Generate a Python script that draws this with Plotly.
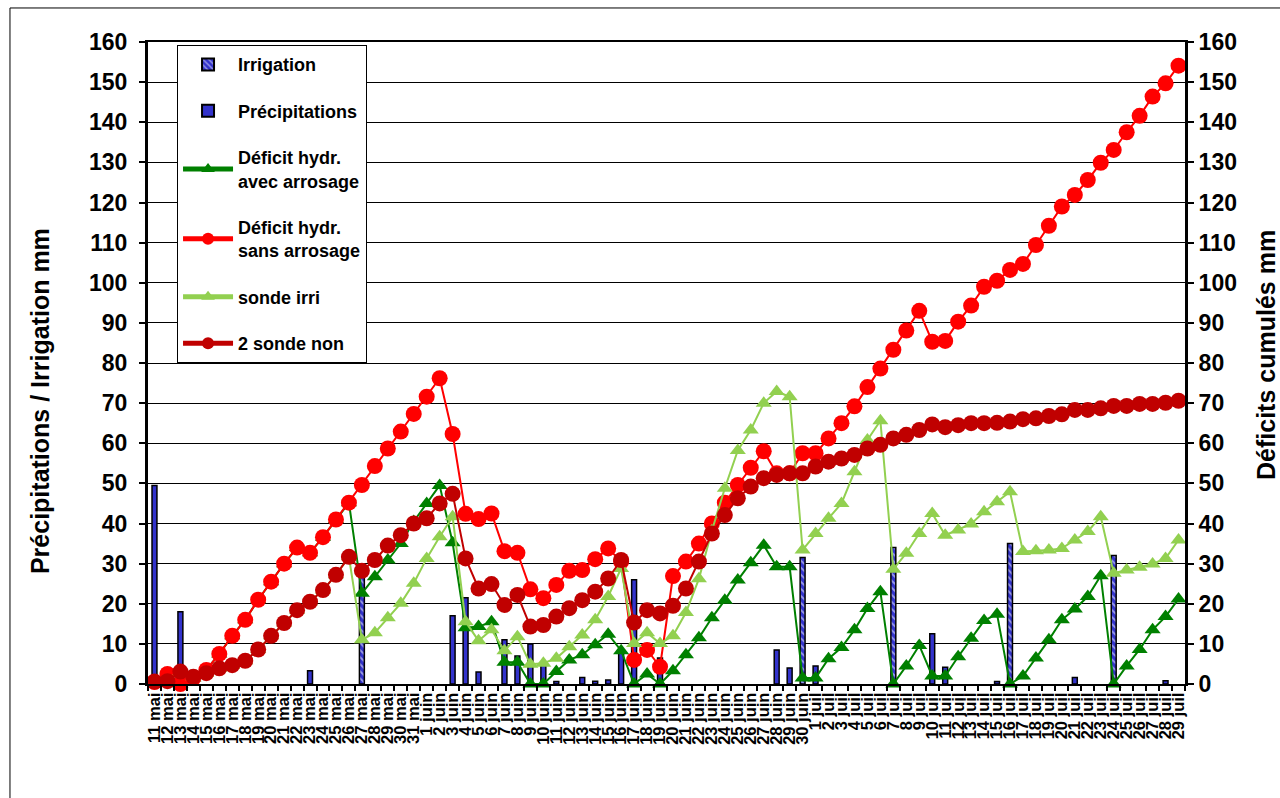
import plotly.graph_objects as go

# ---------------- categories ----------------
days_mai = [f"{d} mai" for d in range(11, 32)]
days_juin = [f"{d} juin" for d in range(1, 31)]
days_juil = [f"{d} juil" for d in range(1, 30)]
categories = days_mai + days_juin + days_juil

# ---------------- bars (mm) ----------------
precip_dates = ["11 mai", "13 mai", "23 mai", "3 juin", "4 juin", "5 juin", "7 juin", "8 juin",
                "9 juin", "10 juin", "11 juin", "13 juin", "14 juin", "15 juin", "16 juin",
                "17 juin", "19 juin", "28 juin", "29 juin", "1 juil", "10 juil", "11 juil",
                "15 juil", "21 juil", "28 juil"]
precip_values = [49.5, 18, 3.3, 17, 21.5, 3, 11, 7,
                 10, 5, 0.6, 1.6, 0.7, 1, 8,
                 26, 6.5, 8.5, 4, 4.5, 12.5, 4.2,
                 0.6, 1.6, 0.8]

irrig_dates = ["27 mai", "30 juin", "7 juil", "16 juil", "24 juil"]
irrig_values = [28, 31.5, 34, 35, 32]

# ---------------- lines (cumulated deficits, mm) ----------------
deficit_avec = [
    # mai 11..31
    0.5, 2.5, 0, 1.5, 3.5, 7.5, 12, 16, 21, 25.5, 30, 34, 32.7, 36.6, 41, 45.2,
    22.6, 26.7, 30.9, 35, 40.5,
    # juin 1..30
    45, 49.5, 35.2, 14, 14.3, 15.5, 5.4, 5.4, 0, 0, 3.1, 6, 7.3, 9.8, 12.4, 8.3,
    0, 2.5, 0, 3.3, 7.3, 11.5, 16.5, 20.9, 25.9, 30.2, 34.6, 29.2, 29.2, 1.5,
    # juil 1..29
    1.5, 6.3, 9.1, 13.5, 18.8, 23, 0, 4.5, 9.6, 2, 2, 6.8, 11.4, 15.8, 17.4,
    0, 2, 6.5, 11, 16, 18.7, 21.8, 27, 0, 4.5, 8.6, 13.5, 16.8, 21.2,
]
deficit_sans = [
    0.5, 2.5, 0, 1.5, 3.5, 7.5, 12, 16, 21, 25.5, 30, 34, 32.7, 36.6, 41, 45.2,
    49.6, 54.3, 58.7, 62.9, 67.3,
    71.6, 76.2, 62.3, 42.4, 41.1, 42.5, 33.1, 32.7, 23.6, 21.4, 24.7, 28.2, 28.4, 31.1, 33.8, 30.5,
    6, 8.5, 4.3, 26.9, 30.5, 35, 40, 45.2, 49.6, 53.9, 58, 52.5, 52.5, 57.5,
    57.5, 61.2, 65, 69.2, 74, 78.6, 83.3, 88.1, 93, 85.3, 85.5, 90.3, 94.3, 99, 100.5,
    103.2, 104.7, 109.4, 114.2, 119, 121.9, 125.6, 129.9, 133.1, 137.5, 141.6, 146.4, 149.7, 154.1,
]
sonde_irri = [
    0.6, 0.7, 3.1, 1.8, 2.7, 3.9, 4.7, 5.8, 8.6, 12, 15.2, 18.4, 20.5, 23.4, 27.2, 31.7,
    11, 12.8, 16.5, 20.1, 25.1,
    31.3, 36.7, 41.7, 15.5, 10.8, 13.5, 8.3, 11.8, 4.9, 5.2, 6.4, 9.3, 12.2, 16, 21.8, 28.8,
    10.1, 12.8, 10.1, 12, 17.8, 26.2, 38.2, 48.8, 58.2, 63.3, 70, 72.9, 71.6, 33.4,
    37.5, 41.3, 45, 52.9, 60.8, 65.6, 28.6, 32.6, 37.5, 42.5, 37.1, 38.4, 39.9, 42.9, 45.4,
    47.9, 33, 33.2, 33.4, 33.8, 35.9, 38, 41.7, 27.6, 28.4, 29.1, 29.9, 31.3, 35.9,
]
sonde_non = [
    0.6, 0.7, 3.1, 1.8, 2.7, 3.9, 4.7, 5.8, 8.6, 12, 15.2, 18.4, 20.5, 23.4, 27.2, 31.7,
    28.2, 30.9, 34.5, 37.1, 40,
    41.3, 45, 47.4, 31.3, 23.8, 24.9, 19.7, 22.2, 14.3, 14.7, 16.8, 18.9, 20.9, 23, 26.3, 30.9,
    15.3, 18.4, 17.6, 19.5, 23.8, 30.5, 37.5, 42.1, 46.3, 49.2, 51.3, 52.1, 52.5, 52.5,
    54.2, 55.4, 56.2, 57.1, 58.7, 59.6, 61.2, 62.1, 63.3, 64.7, 64, 64.5, 65, 65, 65.1,
    65.4, 66, 66.2, 66.8, 67.2, 68.3, 68.3, 68.7, 69.3, 69.3, 69.8, 69.8, 70.1, 70.6,
]

y_ticks = list(range(0, 161, 10))

FONT = "Liberation Sans"
BLUE = "#3333CC"

fig = go.Figure()

fig.add_trace(go.Bar(
    x=irrig_dates, y=irrig_values, name="Irrigation", width=0.38,
    marker=dict(color=BLUE, line=dict(color="black", width=1.5),
                pattern=dict(shape="\\", fgcolor="white", bgcolor=BLUE, size=5, solidity=0.35)),
    legendgroup="g1",
))
fig.add_trace(go.Bar(
    x=precip_dates, y=precip_values, name="Précipitations", width=0.38,
    marker=dict(color=BLUE, line=dict(color="black", width=1.5)),
    legendgroup="g2",
))

line_specs = [
    ("Déficit hydr.<br>avec arrosage", deficit_avec, "#008000", "triangle-up", 14, "g3"),
    ("Déficit hydr.<br>sans arrosage", deficit_sans, "#FF0000", "circle", 16, "g4"),
    ("sonde irri", sonde_irri, "#92D050", "triangle-up", 14, "g5"),
    ("2 sonde non", sonde_non, "#C00000", "circle", 16, "g6"),
]
for name, vals, col, sym, sz, grp in line_specs:
    fig.add_trace(go.Scatter(
        x=categories, y=vals, name=name, yaxis="y2", mode="lines+markers",
        line=dict(color=col, width=2),
        marker=dict(color=col, symbol=sym, size=sz),
        cliponaxis=False, legendgroup=grp,
    ))

title_font = dict(family=FONT, size=25, weight="bold", color="black")

fig.update_layout(
    width=1280, height=798,
    margin=dict(l=148, r=95, t=42, b=114, autoexpand=False),
    paper_bgcolor="white", plot_bgcolor="white",
    barmode="overlay",
    font=dict(family=FONT, size=14, color="black", weight="bold"),
    xaxis=dict(
        type="category", categoryorder="array", categoryarray=categories,
        tickmode="linear", dtick=1, tickangle=-90, tickson="boundaries",
        ticks="outside", ticklen=5, tickcolor="black", tickwidth=1.5,
        tickfont=dict(family=FONT, size=16.5, weight="bold"),
        showline=True, linecolor="black", linewidth=2, mirror=True,
        showgrid=False, range=[-0.5, len(categories) - 0.5],
    ),
    yaxis=dict(
        range=[0, 160], tickvals=y_ticks,
        showgrid=True, gridcolor="black", gridwidth=1.2,
        showline=True, linecolor="black", linewidth=3,
        ticks="outside", ticklen=6, tickcolor="black", tickwidth=1.5,
        ticklabelstandoff=7,
        tickfont=dict(family=FONT, size=23, weight="bold"),
        zeroline=False,
    ),
    yaxis2=dict(
        range=[0, 160], tickvals=y_ticks, overlaying="y", side="right",
        showgrid=False, showline=True, linecolor="black", linewidth=3,
        ticks="outside", ticklen=6, tickcolor="black", tickwidth=1.5,
        tickfont=dict(family=FONT, size=23, weight="bold"),
        zeroline=False,
    ),
    legend=dict(
        x=0.028, y=0.995, xanchor="left", yanchor="top",
        bgcolor="white", bordercolor="black", borderwidth=1,
        font=dict(family=FONT, size=18, weight="bold"),
        tracegroupgap=20, itemsizing="constant", traceorder="grouped",
        itemwidth=50,
    ),
    annotations=[
        dict(text="Précipitations / Irrigation mm", xref="paper", yref="paper",
             x=-0.1041, y=0.4408, textangle=-90, showarrow=False,
             xanchor="center", yanchor="middle", font=title_font),
        dict(text="Déficits cumulés mm", xref="paper", yref="paper",
             x=1.0781, y=0.5125, textangle=-90, showarrow=False,
             xanchor="center", yanchor="middle", font=title_font),
    ],
    shapes=[dict(type="rect", xref="paper", yref="paper",
                 x0=-0.1331, x1=1.2, y0=-0.3, y1=1.053,
                 line=dict(color="black", width=1), fillcolor="rgba(0,0,0,0)", layer="below")],
)

fig.write_html("out.html", config={"displayModeBar": False},
               post_script="document.body.style.margin='0';document.body.style.overflow='hidden';")
